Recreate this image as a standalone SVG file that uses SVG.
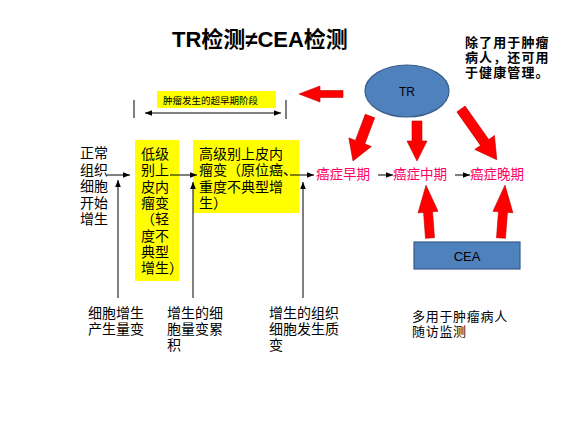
<svg xmlns="http://www.w3.org/2000/svg" width="564" height="424" viewBox="0 0 564 424">
<defs>
<style>
.t{font-family:"Liberation Sans","Noto Sans CJK SC",sans-serif;font-size:14px;fill:#000}
.b{font-weight:bold}
.pk{fill:#FF0066;font-size:13.5px}
.ln{stroke:#000;stroke-width:1;fill:none}
.red{fill:#FF0000;stroke:#C00000;stroke-width:0.6}
.blue{fill:#4F81BD;stroke:#385D8A;stroke-width:1.2}
.yel{fill:#FFFF00}
</style>
<marker id="ah" viewBox="0 0 10 10" refX="10" refY="5" markerWidth="7" markerHeight="7" markerUnits="userSpaceOnUse" orient="auto-start-reverse">
<path d="M0,1 L10,5 L0,9 z" fill="#000"/>
</marker>
</defs>
<rect width="564" height="424" fill="#fff"/>

<text id="title" class="t b" x="172" y="47" style="font-size:22px">TR检测≠CEA检测</text>

<g id="note-tr">
<text class="t b" style="font-size:13px;letter-spacing:1.1px"><tspan x="465" y="47">除了用于肿瘤</tspan><tspan x="465" y="62">病人，还可用</tspan><tspan x="465" y="77">于健康管理。</tspan></text>
</g>

<g id="stage-bracket">
<line class="ln" x1="134" y1="100" x2="134" y2="118" stroke-width="1.5"/>
<line class="ln" x1="286" y1="100" x2="286" y2="119" stroke-width="1.5"/>
<line class="ln" x1="145" y1="113" x2="281" y2="113" marker-start="url(#ah)" marker-end="url(#ah)"/>
<rect class="yel" x="157" y="91" width="119" height="17"/>
<text class="t" x="163" y="103.5" style="font-size:9.5px">肿瘤发生的超早期阶段</text>
</g>

<g id="tr">
<ellipse class="blue" cx="407" cy="91" rx="42" ry="26"/>
<text class="t" x="407" y="96" text-anchor="middle" style="font-size:12px">TR</text>
</g>

<g id="cea">
<rect class="blue" x="414" y="242" width="106" height="27"/>
<text class="t" x="467" y="261" text-anchor="middle" style="font-size:13px">CEA</text>
</g>

<g id="normal">
<text class="t"><tspan x="80" y="158">正常</tspan><tspan x="80" y="174.5">组织</tspan><tspan x="80" y="191">细胞</tspan><tspan x="80" y="207.5">开始</tspan><tspan x="80" y="224">增生</tspan></text>
</g>

<g id="low-grade">
<rect class="yel" x="135" y="140" width="44" height="141"/>
<text class="t"><tspan x="141" y="159">低级</tspan><tspan x="141" y="175.3">别上</tspan><tspan x="141" y="191.6">皮内</tspan><tspan x="141" y="207.9">瘤变</tspan><tspan x="141" y="224.2">（轻</tspan><tspan x="141" y="240.5">度不</tspan><tspan x="141" y="256.8">典型</tspan><tspan x="141" y="273.1">增生）</tspan></text>
</g>

<g id="high-grade">
<rect class="yel" x="193" y="140" width="106" height="73"/>
<text class="t"><tspan x="199" y="159">高级别上皮内</tspan><tspan x="199" y="175.3">瘤变（原位癌、</tspan><tspan x="199" y="191.6">重度不典型增</tspan><tspan x="199" y="207.9">生）</tspan></text>
</g>

<g id="early"><text class="t pk" x="316" y="179">癌症早期</text></g>
<g id="middle"><text class="t pk" x="393" y="179">癌症中期</text></g>
<g id="late"><text class="t pk" x="470" y="179">癌症晚期</text></g>

<g id="label-1">
<text class="t"><tspan x="88" y="318">细胞增生</tspan><tspan x="88" y="334">产生量变</tspan></text>
</g>
<g id="label-2">
<text class="t"><tspan x="167" y="318">增生的细</tspan><tspan x="167" y="334">胞量变累</tspan><tspan x="167" y="350">积</tspan></text>
</g>
<g id="label-3">
<text class="t"><tspan x="269" y="318">增生的组织</tspan><tspan x="269" y="334">细胞发生质</tspan><tspan x="269" y="350">变</tspan></text>
</g>
<g id="label-cea">
<text class="t" style="font-size:13px;letter-spacing:0.7px"><tspan x="412" y="321">多用于肿瘤病人</tspan><tspan x="412" y="336">随访监测</tspan></text>
</g>

<g id="connectors">
<line class="ln" x1="107" y1="175" x2="130" y2="175" marker-end="url(#ah)"/>
<line class="ln" x1="170" y1="175" x2="197" y2="175" marker-end="url(#ah)"/>
<line class="ln" x1="290" y1="175" x2="314" y2="175" marker-end="url(#ah)"/>
<line class="ln" x1="378" y1="175" x2="393" y2="175" marker-end="url(#ah)"/>
<line class="ln" x1="455" y1="175" x2="470" y2="175" marker-end="url(#ah)"/>
<line class="ln" x1="118" y1="298" x2="118" y2="180" marker-end="url(#ah)"/>
<line class="ln" x1="193" y1="298" x2="193" y2="182" marker-end="url(#ah)"/>
<line class="ln" x1="303" y1="298" x2="303" y2="182" marker-end="url(#ah)"/>

<polygon class="red" transform="translate(343,94) rotate(180)" points="0,-3.5 23,-3.5 23,-8 44,0 23,8 23,3.5 0,3.5"/>
<polygon class="red" transform="translate(370,116) rotate(110.7)" points="0,-5 28,-5 28,-12 48,0 28,12 28,5 0,5"/>
<polygon class="red" transform="translate(417,121) rotate(90)" points="0,-5 20,-5 20,-10 40,0 20,10 20,5 0,5"/>
<polygon class="red" transform="translate(461,109) rotate(54.8)" points="0,-5 41,-5 41,-12 62,0 41,12 41,5 0,5"/>
<polygon class="red" transform="translate(430,238) rotate(-94.3)" points="0,-4.5 26,-4.5 26,-10 53,0 26,10 26,4.5 0,4.5"/>
<polygon class="red" transform="translate(501,238) rotate(-85.7)" points="0,-4.5 26,-4.5 26,-10 53,0 26,10 26,4.5 0,4.5"/>
</g>
</svg>
